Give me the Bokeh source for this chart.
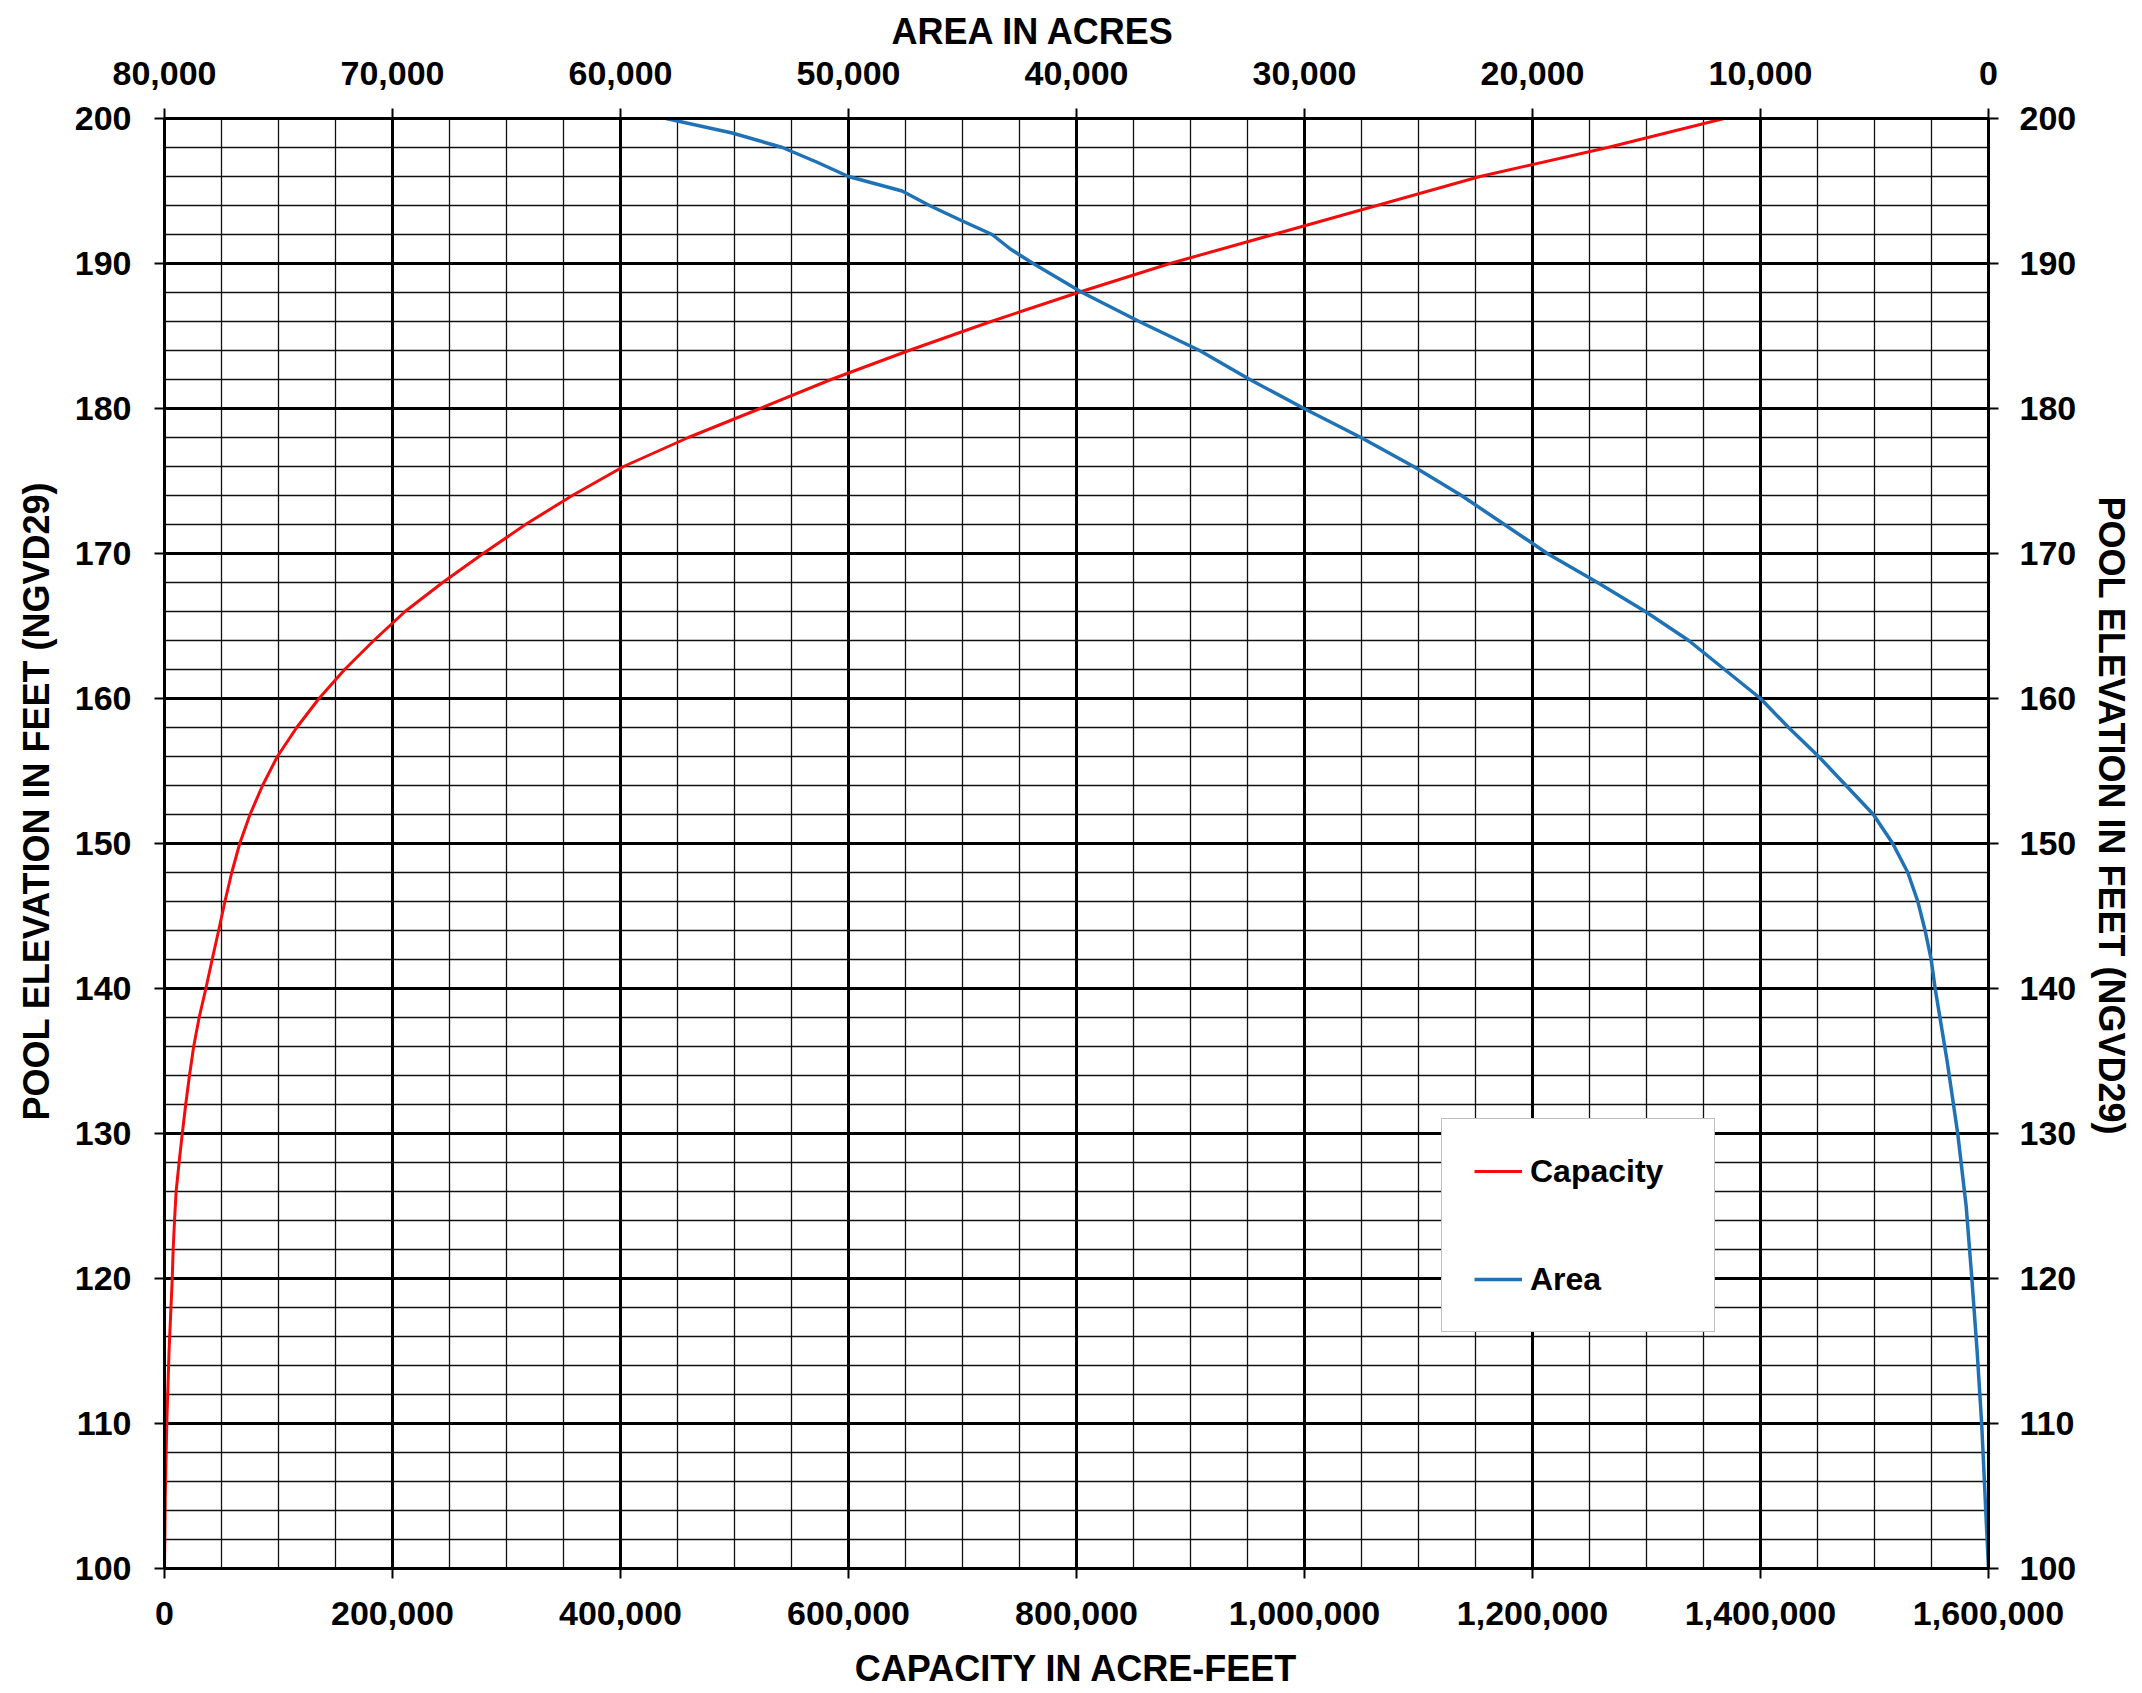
from bokeh.plotting import figure
from bokeh.models import (Range1d, LinearAxis, SingleIntervalTicker,
                          NumeralTickFormatter, Legend, LegendItem, Title)
from bokeh.embed import file_html
from bokeh.resources import INLINE

# ---------------- data ----------------
cap_elevation = [100, 105, 110, 115, 120, 122, 124, 126, 128, 130, 132, 134,
                 136, 138, 140, 142, 144, 146, 148, 150, 152, 154, 156, 158,
                 160, 162, 164, 166, 168, 170, 172, 174, 176, 178, 180, 182,
                 184, 186, 188, 190, 192, 194, 196, 198, 200]
capacity_acre_feet = [0, 700, 2000, 4000, 6800, 7600, 8800, 10200, 12800,
                      15600, 18600, 21900, 25600, 30400, 36300, 41800, 47500,
                      53000, 59000, 66000, 75000, 86000, 99000, 116000, 135500,
                      158000, 183600, 211000, 244000, 279500, 316600, 357700,
                      402700, 459500, 522500, 584700, 653000, 725000, 801500,
                      882000, 972800, 1063500, 1154000, 1266000, 1368000]

area_elevation = [100, 110, 115, 120, 125, 130, 135, 140, 142, 144, 146, 148,
                  150, 152, 154, 156, 158, 160, 162, 164, 166, 168, 170, 172,
                  174, 176, 178, 180, 182, 184, 186, 188, 190, 191, 192, 193,
                  194, 195, 196, 197, 198, 199, 200]
area_acres = [0, 300, 500, 730, 980, 1350, 1815, 2340, 2515, 2780, 3100, 3540,
              4200, 5050, 6250, 7450, 8770, 10000, 11575, 13150, 15050, 17150,
              19350, 21230, 23115, 25215, 27525, 30020, 32400, 34600, 37250,
              39750, 41900, 42900, 43700, 45100, 46450, 47650, 50000, 51400,
              52900, 55100, 58000]

capacity_ticks_interval = 200000
area_ticks_interval = 10000
elevation_ticks_interval = 10

FONT = "Liberation Sans"
RED = "#f20c0c"
BLUE = "#1f72b6"

p = figure(width=2142, height=1693,
           x_range=Range1d(0, 1600000), y_range=Range1d(100, 200),
           output_backend="svg", toolbar_location=None,
           min_border_left=164, min_border_right=154,
           min_border_top=118, min_border_bottom=125)
p.extra_x_ranges = {"area": Range1d(start=80000, end=0)}

p.background_fill_color = "white"
p.border_fill_color = "white"
p.outline_line_color = "black"
p.outline_line_width = 3

cap_ticker = SingleIntervalTicker(interval=capacity_ticks_interval, num_minor_ticks=4)
elev_ticker = SingleIntervalTicker(interval=elevation_ticks_interval, num_minor_ticks=5)
area_ticker = SingleIntervalTicker(interval=area_ticks_interval, num_minor_ticks=4)

fmt = NumeralTickFormatter(format="0,0")


def style_axis(ax, label, tick_standoff, label_standoff):
    if label:
        ax.axis_label = label
    ax.axis_label_text_font = FONT
    ax.axis_label_text_font_size = "36px"
    ax.axis_label_text_font_style = "bold"
    ax.axis_label_text_color = "black"
    ax.axis_label_standoff = label_standoff
    ax.major_label_text_font = FONT
    ax.major_label_text_font_size = "34px"
    ax.major_label_text_font_style = "bold"
    ax.major_label_text_color = "black"
    ax.major_label_standoff = tick_standoff
    ax.axis_line_color = "black"
    ax.axis_line_width = 3
    ax.major_tick_line_color = "black"
    ax.major_tick_line_width = 2
    ax.major_tick_out = 10
    ax.major_tick_in = 0
    ax.minor_tick_out = 0
    ax.minor_tick_in = 0
    ax.formatter = fmt


def make_title(text, offset, standoff, valign):
    return Title(text=text, align="left", offset=offset, vertical_align=valign,
                 text_font=FONT, text_font_size="36px", text_font_style="bold",
                 text_color="black", standoff=standoff)


# bottom axis
xb = p.xaxis[0]
xb.ticker = cap_ticker
style_axis(xb, "CAPACITY IN ACRE-FEET", 23, 20)

# left axis
yl = p.yaxis[0]
yl.ticker = elev_ticker
style_axis(yl, None, 23, 0)

# right axis
yr = LinearAxis(ticker=elev_ticker)
style_axis(yr, None, 21, 0)
p.add_layout(yr, "right")

# top axis (area, reversed)
xt = LinearAxis(x_range_name="area", ticker=area_ticker)
style_axis(xt, None, 24, 0)
p.add_layout(xt, "above")

# axis titles that sit off-centre in the reference
p.add_layout(make_title("AREA IN ACRES", 727, 14, "bottom"), "above")
p.add_layout(make_title("POOL ELEVATION IN FEET (NGVD29)", 448, 28, "middle"), "left")
p.add_layout(make_title("POOL ELEVATION IN FEET (NGVD29)", 378, 20, "middle"), "right")

# grids
for g, tk in ((p.xgrid[0], cap_ticker), (p.ygrid[0], elev_ticker)):
    g.ticker = tk
    g.grid_line_color = "black"
    g.grid_line_width = 3
    g.grid_line_alpha = 1.0
    g.minor_grid_line_color = "#111111"
    g.minor_grid_line_width = 1.3

r_cap = p.line(capacity_acre_feet, cap_elevation, line_color=RED, line_width=3)
r_area = p.line(area_acres, area_elevation, x_range_name="area",
                line_color=BLUE, line_width=3.5)

legend = Legend(items=[LegendItem(label="Capacity", renderers=[r_cap]),
                       LegendItem(label="Area", renderers=[r_area])],
                location=(1277, 236))
legend.label_text_font = FONT
legend.label_text_font_size = "32px"
legend.label_text_font_style = "bold"
legend.label_text_color = "black"
legend.label_standoff = 8
legend.label_height = 40
legend.label_width = 152
legend.glyph_height = 40
legend.glyph_width = 48
legend.padding = 32
legend.spacing = 68
legend.margin = 0
legend.border_line_color = "#7f7f7f"
legend.border_line_width = 1.5
legend.background_fill_color = "white"
legend.background_fill_alpha = 1.0
p.add_layout(legend)

open("out.html", "w").write(file_html(p, INLINE))
